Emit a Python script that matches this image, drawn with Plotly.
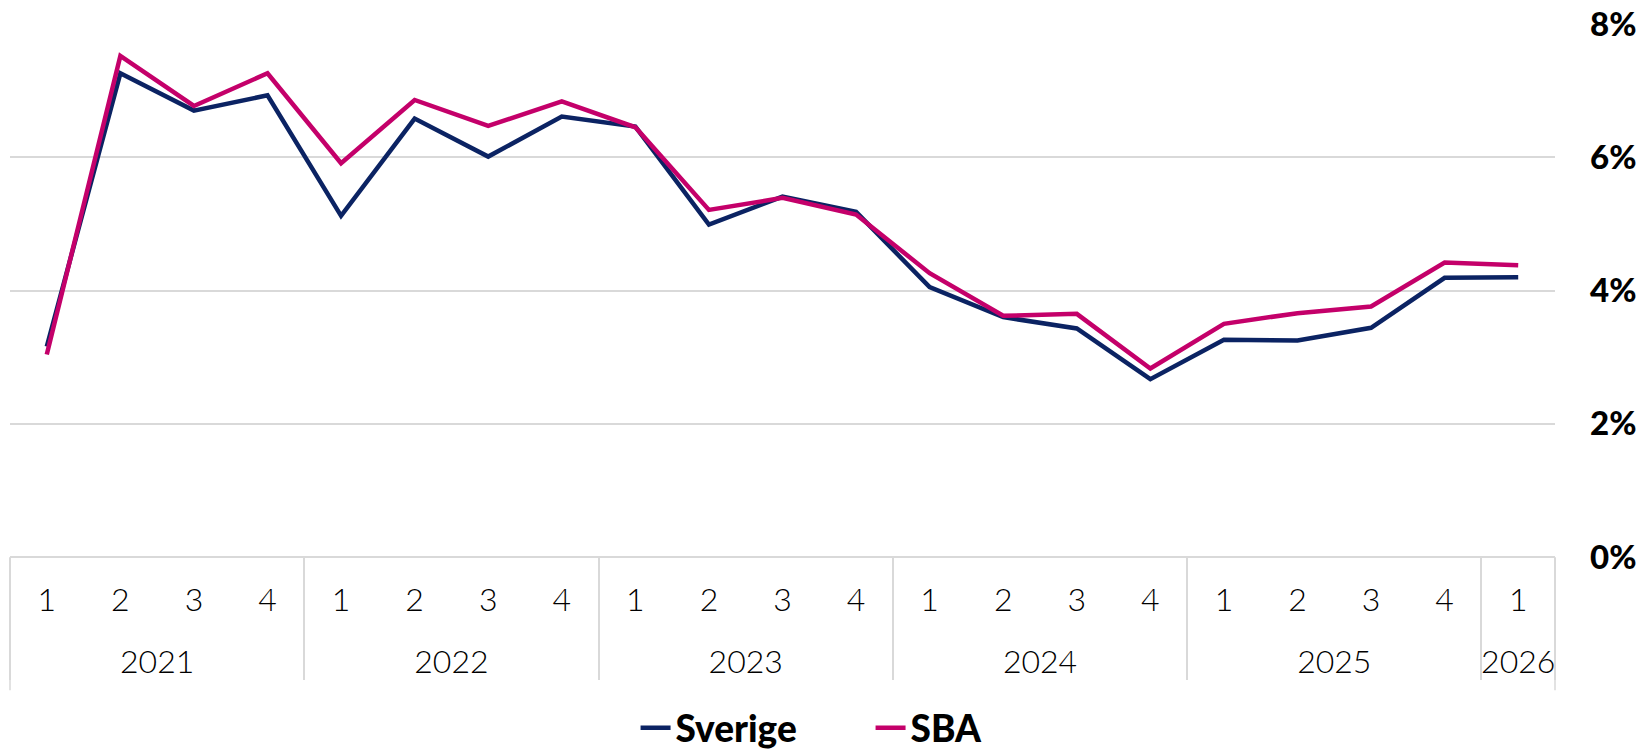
import plotly.graph_objects as go

# quarters 2021 Q1 .. 2026 Q1
years = ["2021"] * 4 + ["2022"] * 4 + ["2023"] * 4 + ["2024"] * 4 + ["2025"] * 4 + ["2026"]
quarters = ["1", "2", "3", "4"] * 5 + ["1"]

sverige = [3.16, 7.26, 6.70, 6.93, 5.12, 6.58, 6.01, 6.61, 6.46,
           4.99, 5.41, 5.18, 4.05, 3.60, 3.43, 2.67, 3.26, 3.25, 3.44, 4.19, 4.20]
sba = [3.04, 7.52, 6.77, 7.26, 5.91, 6.86, 6.47, 6.84, 6.45,
       5.21, 5.39, 5.14, 4.26, 3.62, 3.65, 2.83, 3.50, 3.66, 3.76, 4.42, 4.38]

y_ticks = [0, 2, 4, 6, 8]
y_labels = ["0%", "2%", "4%", "6%", "8%"]

colors = {"Sverige": "#0b2363", "SBA": "#c4006a"}
grid = "#d9d9d9"

# an extra blank line under each quarter pushes the year row further down
q_text = [q + "<br><span style='font-size:34px'> </span>" for q in quarters]

fig = go.Figure()
for name, vals in [("Sverige", sverige), ("SBA", sba)]:
    fig.add_trace(go.Scatter(
        x=[years, q_text], y=vals,
        mode="lines", name=name,
        line=dict(color=colors[name], width=4.5),
    ))

# outer edges of the category box (plotly only draws inner dividers)
for xe in (0, 1):
    fig.add_shape(type="line", xref="paper", yref="paper",
                  x0=xe, x1=xe, y0=0, y1=-0.25,
                  line=dict(color=grid, width=1.5))

# page body has an 8px margin, so the figure is a bit smaller than the window
fig.update_layout(
    width=1642, height=744,
    margin=dict(l=2, r=95, t=16, b=195, autoexpand=False),
    plot_bgcolor="white", paper_bgcolor="white",
    showlegend=True,
    legend=dict(
        orientation="h", x=0.557, xanchor="center",
        yref="container", y=0.032, yanchor="middle",
        font=dict(family="Lato", size=37, color="black", weight=900),
        entrywidth=190, tracegroupgap=0,
    ),
    xaxis=dict(
        type="multicategory", range=[-0.5, 20.5], automargin=False,
        showgrid=False, zeroline=False,
        showdividers=True, dividercolor=grid, dividerwidth=1.5,
        tickfont=dict(family="Lato", size=32, color="black", weight=300),
        ticklabelstandoff=21,
        showline=False, ticks="",
    ),
    yaxis=dict(
        side="right", range=[0, 8], tickvals=y_ticks, ticktext=y_labels,
        showgrid=True, gridcolor=grid, gridwidth=1.5,
        zeroline=True, zerolinecolor=grid, zerolinewidth=1.5,
        tickfont=dict(family="Lato", size=33, color="black", weight=900),
        ticklabelstandoff=34, ticklabeloverflow="allow",
        showline=False, automargin=False,
    ),
)

fig.write_html("out.html")
